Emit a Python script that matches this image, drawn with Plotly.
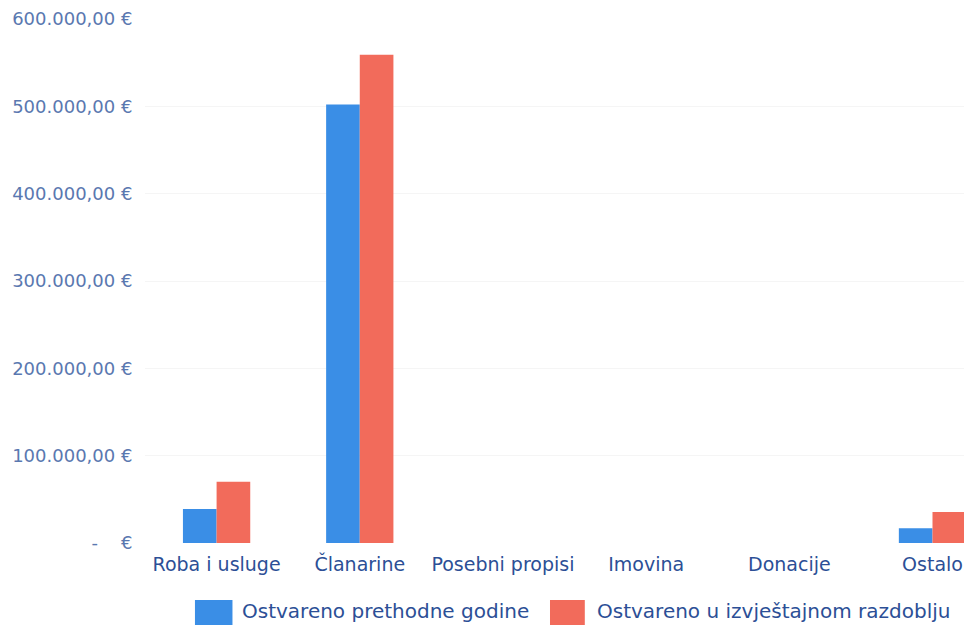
import plotly.graph_objects as go

categories = ["Roba i usluge", "Članarine", "Posebni propisi", "Imovina", "Donacije", "Ostalo"]
series_names = ["Ostvareno prethodne godine", "Ostvareno u izvještajnom razdoblju"]
prethodne = [39000, 502000, 0, 0, 0, 17000]
izvjestajno = [70000, 559000, 0, 0, 0, 35500]
tick_vals = [0, 100000, 200000, 300000, 400000, 500000, 600000]
tick_text = ["-    €", "100.000,00 €", "200.000,00 €", "300.000,00 €",
             "400.000,00 €", "500.000,00 €", "600.000,00 €"]

colors = ["#3a8ee6", "#f26b5b"]

fig = go.Figure()
for name, vals, c in zip(series_names, [prethodne, izvjestajno], colors):
    fig.add_trace(go.Bar(x=categories, y=vals, name=name,
                         marker=dict(color=c, line=dict(width=0))))

fig.update_layout(
    width=964, height=625,
    margin=dict(l=145, r=0, t=19, b=82),
    paper_bgcolor="white", plot_bgcolor="white",
    barmode="group", bargap=0.53, bargroupgap=0,
    showlegend=False,
    font=dict(family="DejaVu Sans", size=16, color="#2c4f96"),
)
fig.update_xaxes(range=[-0.5, 5.22], showgrid=False, showline=False, zeroline=False,
                 ticks="outside", ticklen=4, tickcolor="rgba(0,0,0,0)",
                 tickfont=dict(family="DejaVu Sans", size=19, color="#2c4f96"))
fig.update_yaxes(range=[0, 600000], tickvals=tick_vals, ticktext=tick_text,
                 showgrid=True, gridcolor="#f5f5f5", zeroline=False, showline=False,
                 ticks="outside", ticklen=8, tickcolor="rgba(0,0,0,0)",
                 tickfont=dict(family="DejaVu Sans", size=18, color="#5a78b0"))

# legend drawn manually (large swatches)
legend_items = [(0.061, 0.1068, 0.116), (0.4945, 0.537, 0.549)]
for (x0, x1, tx), name, c in zip(legend_items, series_names, colors):
    fig.add_shape(type="rect", xref="paper", yref="paper",
                  x0=x0, x1=x1, y0=-0.109, y1=-0.165,
                  fillcolor=c, line=dict(width=0))
    fig.add_annotation(xref="paper", yref="paper", x=tx, y=-0.129,
                       text=name, showarrow=False, xanchor="left", yanchor="middle",
                       font=dict(family="DejaVu Sans", size=20, color="#2c4f96"))

fig.write_html("out.html",
               config={"displayModeBar": False},
               post_script="document.body.style.margin='0';document.body.style.overflow='hidden';")
